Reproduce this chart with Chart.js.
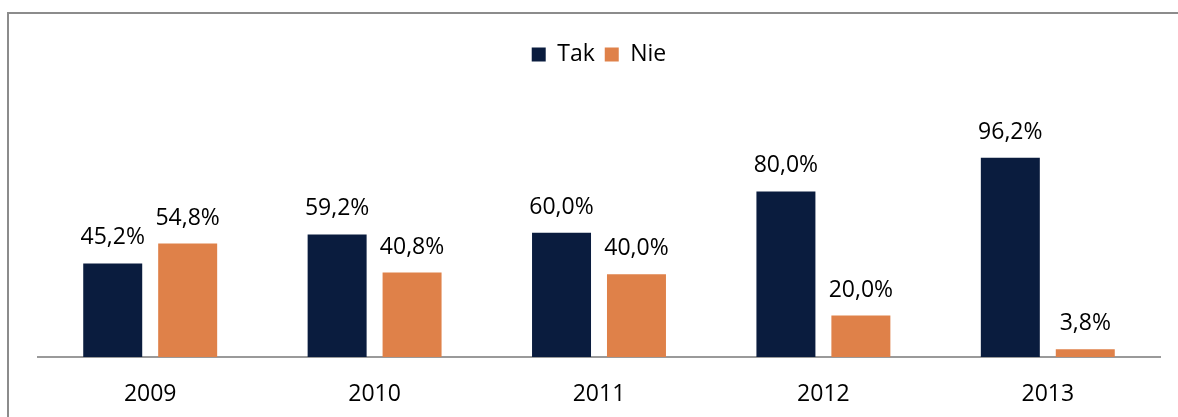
<!DOCTYPE html>
<html>
<head>
<meta charset="utf-8">
<script src="https://cdn.jsdelivr.net/npm/chart.js@4"></script>
<style>
  html, body { margin: 0; padding: 0; background: #fff; }
  #wrap { position: relative; width: 1178px; height: 417px; overflow: hidden; }
  #frame {
    position: absolute; left: 7px; top: 12px; width: 1300px; height: 500px;
    border-top: 2px solid #8c8c8c; border-left: 2px solid #8c8c8c;
  }
  #chart { position: absolute; left: 0; top: 0; }
</style>
</head>
<body>
<div id="wrap">
  <div id="frame"></div>
  <canvas id="chart" width="1178" height="417"></canvas>
</div>
<script>
// ===== DATA =====
const years = ['2009', '2010', '2011', '2012', '2013'];
const takValues = [45.2, 59.2, 60.0, 80.0, 96.2];
const nieValues = [54.8, 40.8, 40.0, 20.0, 3.8];

const FONT = "'Open Sans', 'DejaVu Sans', sans-serif";

// value labels above bars (e.g. "45,2%")
const valueLabels = {
    id: 'valueLabels',
    afterDatasetsDraw(chart) {
        const ctx = chart.ctx;
        ctx.save();
        ctx.font = '23px ' + FONT;
        ctx.fillStyle = '#000';
        ctx.textAlign = 'center';
        ctx.textBaseline = 'alphabetic';
        chart.data.datasets.forEach((ds, i) => {
            chart.getDatasetMeta(i).data.forEach((bar, j) => {
                const txt = ds.data[j].toFixed(1).replace('.', ',') + '%';
                ctx.fillText(txt, bar.x, bar.y - 19);
            });
        });
        ctx.restore();
    }
};

// extra room under the legend
const legendSpace = {
    id: 'legendSpace',
    beforeInit(chart) {
        const fit = chart.legend.fit;
        chart.legend.fit = function () {
            fit.bind(chart.legend)();
            this.height += 74;
        };
    }
};

new Chart(document.getElementById('chart'), {
    type: 'bar',
    data: {
        labels: years,
        datasets: [
            { label: 'Tak', data: takValues, backgroundColor: '#0a1c3e' },
            { label: 'Nie', data: nieValues, backgroundColor: '#df8149' }
        ]
    },
    options: {
        responsive: false,
        animation: false,
        layout: { padding: { left: 38, right: 18, top: 33, bottom: 12 } },
        datasets: {
            bar: { categoryPercentage: 0.668, barPercentage: 0.787 }
        },
        plugins: {
            legend: {
                position: 'top',
                labels: {
                    boxWidth: 14,
                    boxHeight: 14,
                    padding: 10,
                    color: '#000',
                    font: { size: 23, family: FONT }
                }
            },
            tooltip: { enabled: false }
        },
        scales: {
            x: {
                grid: { display: false, drawTicks: false },
                border: { display: true, color: '#9a9a9a', width: 2 },
                ticks: { color: '#000', padding: 24, font: { size: 23, family: FONT } },
                afterFit(scale) { scale.height = 48; }
            },
            y: {
                display: false,
                min: 0,
                max: 100
            }
        }
    },
    plugins: [valueLabels, legendSpace]
});
</script>
</body>
</html>
